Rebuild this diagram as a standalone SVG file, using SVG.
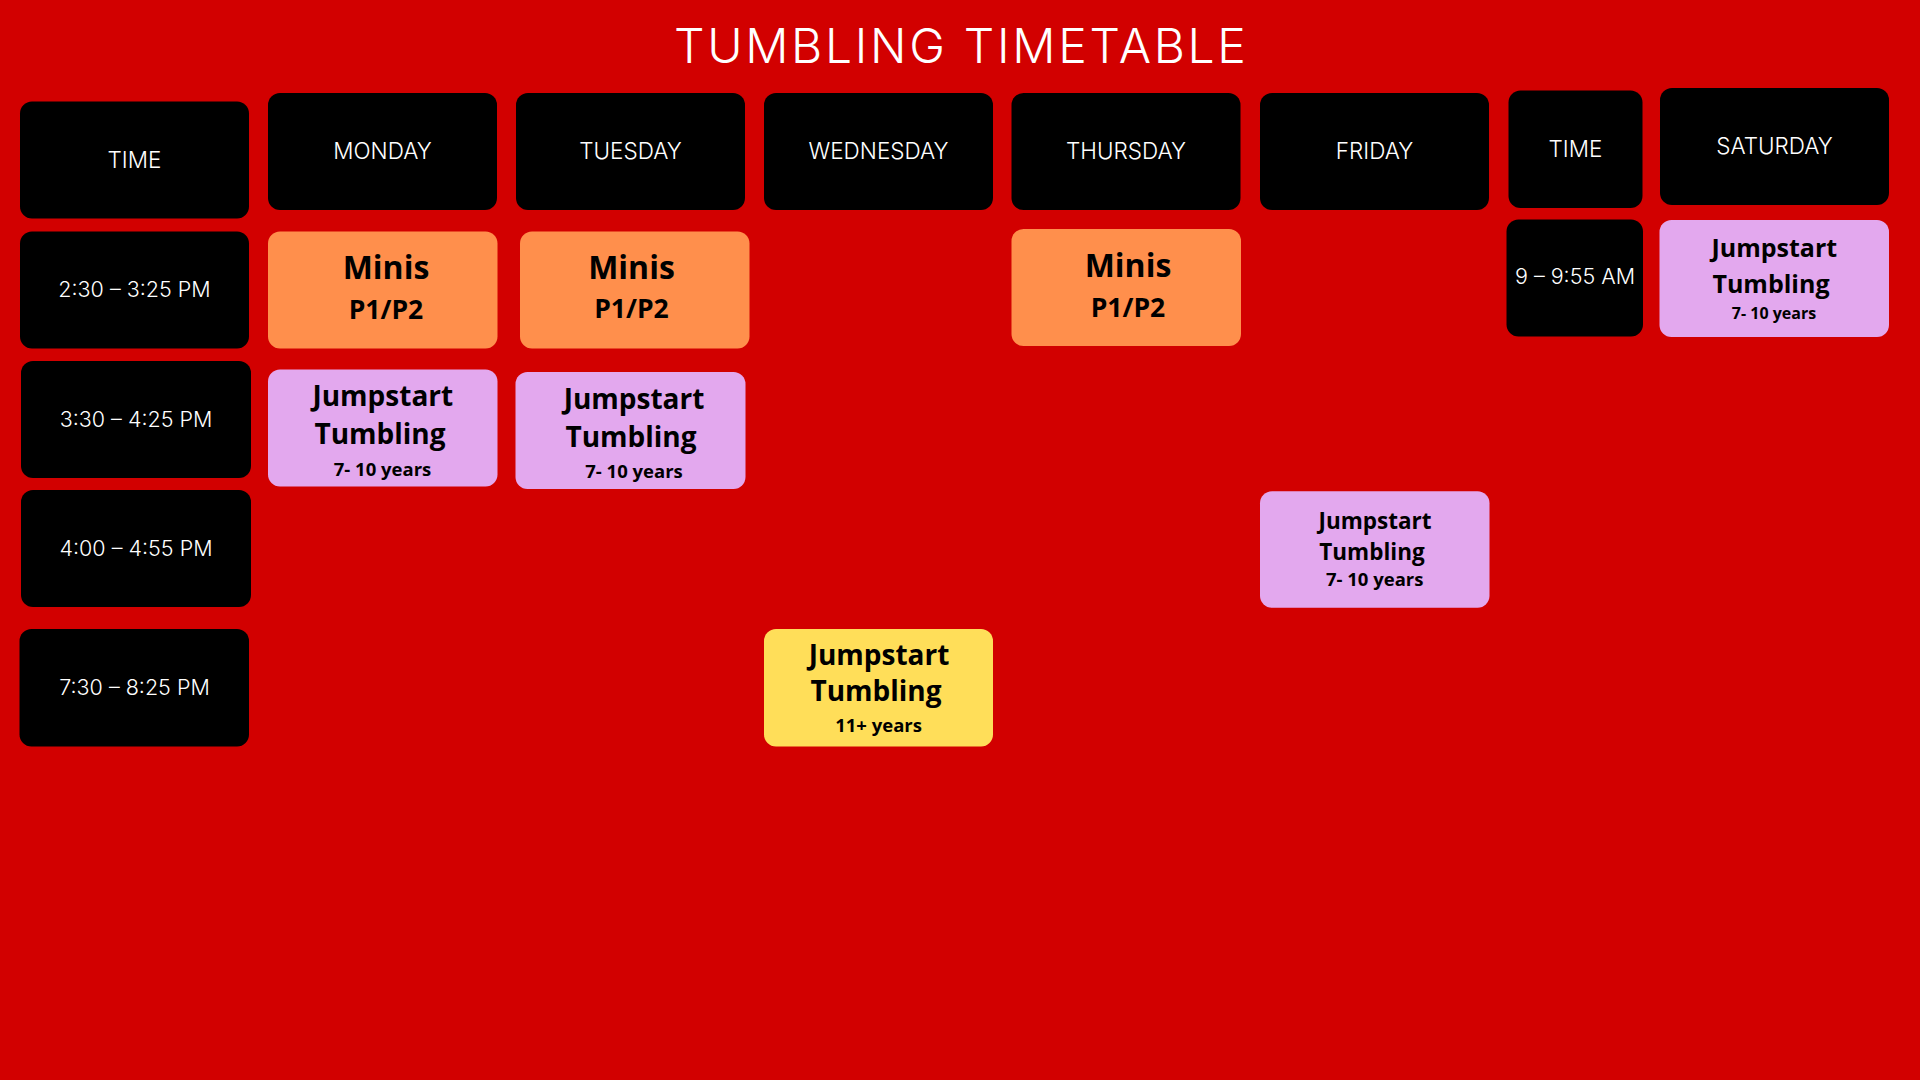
<svg xmlns="http://www.w3.org/2000/svg" width="1920" height="1080" viewBox="0 0 1920 1080">
<style>
.bg{fill:#D20000}
.hd{fill:#000}
.or{fill:#FF8F4C}
.pk{fill:#E3A8EE}
.yl{fill:#FFDE59}
.title{font-family:Inter,"Liberation Sans",sans-serif;font-weight:300;font-size:48px;letter-spacing:2.7px;fill:#fff;text-anchor:middle}
.ht{font-family:Inter,"Liberation Sans",sans-serif;font-weight:300;font-size:22.5px;fill:#fff;text-anchor:middle}
.tt{font-family:Inter,"Liberation Sans",sans-serif;font-weight:300;font-size:21.5px;fill:#fff;text-anchor:middle}
.b{font-family:"Open Sans","Liberation Sans",sans-serif;font-weight:700;fill:#000;text-anchor:middle}
.big{font-size:32px}
.p{font-size:26.5px}
.j{font-size:28px}
.y{font-size:18.5px}
.js{font-size:25px}
.ys{font-size:16px}
.jf{font-size:22.5px}
</style>
<rect class="bg" x="0" y="0" width="1920" height="1080"/>
<text class="title" x="961.3" y="63">TUMBLING TIMETABLE</text>

<g id="h-time"><rect class="hd" x="20" y="101.5" width="229" height="117" rx="12"/><text class="ht" x="134.5" y="167.5">TIME</text></g>
<g id="h-mon"><rect class="hd" x="268" y="93" width="229" height="117" rx="12"/><text class="ht" x="382.5" y="159">MONDAY</text></g>
<g id="h-tue"><rect class="hd" x="516" y="93" width="229" height="117" rx="12"/><text class="ht" x="630.5" y="159">TUESDAY</text></g>
<g id="h-wed"><rect class="hd" x="764" y="93" width="229" height="117" rx="12"/><text class="ht" x="878.5" y="159">WEDNESDAY</text></g>
<g id="h-thu"><rect class="hd" x="1011.5" y="93" width="229" height="117" rx="12"/><text class="ht" x="1126" y="159">THURSDAY</text></g>
<g id="h-fri"><rect class="hd" x="1260" y="93" width="229" height="117" rx="12"/><text class="ht" x="1374.5" y="159">FRIDAY</text></g>
<g id="h-time2"><rect class="hd" x="1508.5" y="90.5" width="134" height="117.5" rx="12"/><text class="ht" x="1575.5" y="156.5">TIME</text></g>
<g id="h-sat"><rect class="hd" x="1660" y="88" width="229" height="117" rx="12"/><text class="ht" x="1774.5" y="154">SATURDAY</text></g>

<g id="t-230"><rect class="hd" x="20" y="231.5" width="229" height="117" rx="12"/><text class="tt" x="134.5" y="296.5">2:30 – 3:25 PM</text></g>
<g id="t-330"><rect class="hd" x="21" y="361" width="230" height="117" rx="12"/><text class="tt" x="136" y="426.5">3:30 – 4:25 PM</text></g>
<g id="t-400"><rect class="hd" x="21" y="490" width="230" height="117" rx="12"/><text class="tt" x="136" y="556">4:00 – 4:55 PM</text></g>
<g id="t-730"><rect class="hd" x="19.5" y="629" width="229.5" height="117.5" rx="12"/><text class="tt" x="134.5" y="695">7:30 – 8:25 PM</text></g>
<g id="t-900"><rect class="hd" x="1506.5" y="219.5" width="136.5" height="117" rx="12"/><text class="tt" x="1575" y="283.5">9 – 9:55 AM</text></g>

<g id="mon-minis"><rect class="or" x="268" y="231.5" width="229.5" height="117" rx="12"/><text class="b big" x="386" y="279.3">Minis</text><text class="b p" x="386" y="318.5">P1/P2</text></g>
<g id="tue-minis"><rect class="or" x="520" y="231.5" width="229.5" height="117" rx="12"/><text class="b big" x="631.5" y="278.5">Minis</text><text class="b p" x="631.5" y="318">P1/P2</text></g>
<g id="thu-minis"><rect class="or" x="1011.5" y="229" width="229.5" height="117" rx="12"/><text class="b big" x="1128" y="277.3">Minis</text><text class="b p" x="1128" y="316.5">P1/P2</text></g>

<g id="mon-jump"><rect class="pk" x="268" y="369.5" width="229.5" height="117" rx="12"/><text class="b j" x="382.8" y="406">Jumpstart</text><text class="b j" x="380" y="444">Tumbling</text><text class="b y" x="382.5" y="475.5">7- 10 years</text></g>
<g id="tue-jump"><rect class="pk" x="515.5" y="372" width="230" height="117" rx="12"/><text class="b j" x="634" y="408.5">Jumpstart</text><text class="b j" x="631" y="446.5">Tumbling</text><text class="b y" x="634" y="478">7- 10 years</text></g>
<g id="wed-jump"><rect class="yl" x="764" y="629" width="229" height="117.5" rx="12"/><text class="b j" x="879" y="665">Jumpstart</text><text class="b j" x="876" y="701">Tumbling</text><text class="b y" x="878.6" y="731.5">11+ years</text></g>
<g id="fri-jump"><rect class="pk" x="1260" y="491.3" width="229.5" height="116.5" rx="12"/><text class="b jf" x="1375" y="529">Jumpstart</text><text class="b jf" x="1372" y="559.8">Tumbling</text><text class="b y" x="1374.7" y="586">7- 10 years</text></g>
<g id="sat-jump"><rect class="pk" x="1659.5" y="220" width="229.5" height="117" rx="12"/><text class="b js" x="1774.3" y="257">Jumpstart</text><text class="b js" x="1771" y="292.8">Tumbling</text><text class="b ys" x="1774" y="319">7- 10 years</text></g>

<g id="connectors"></g>
</svg>
